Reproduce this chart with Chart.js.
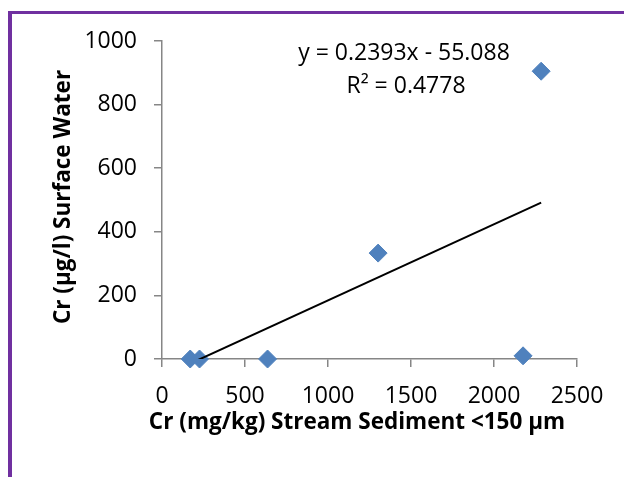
<!DOCTYPE html>
<html>
<head>
<meta charset="utf-8">
<script src="https://cdn.jsdelivr.net/npm/chart.js@4.4.0/dist/chart.umd.min.js"></script>
<style>
  html, body { margin: 0; padding: 0; background: #fff; }
  #wrap { position: relative; width: 624px; height: 477px; overflow: hidden; }
  #frame {
    position: absolute; left: 8px; top: 11px; width: 700px; height: 600px;
    border-top: 3px solid #7030A0; border-left: 4px solid #7030A0;
  }
  #grafico { position: absolute; left: 0; top: 0; }
</style>
</head>
<body>
<div id="wrap">
  <div id="frame"></div>
  <canvas id="grafico" width="624" height="477"></canvas>
</div>
<script>
// valores
const sedimentoCr = [170, 226, 636, 1302, 2175, 2284];
const aguaCr = [0, 0, 0, 333, 10, 905];
const pendiente = 0.2393;
const intercepto = -55.088;
const ticksX = [0, 500, 1000, 1500, 2000, 2500];
const ticksY = [0, 200, 400, 600, 800, 1000];
const ecuacion = 'y = 0.2393x - 55.088';
const r2 = 'R² = 0.4778';
const tituloX = 'Cr (mg/kg) Stream Sediment <150 µm';
const tituloY = 'Cr (µg/l) Surface Water';

const fuente = "'Open Sans', sans-serif";
const gris = '#868686';

const puntos = sedimentoCr.map((x, i) => ({ x: x, y: aguaCr[i] }));
const xMin = Math.min(...sedimentoCr);
const xMax = Math.max(...sedimentoCr);
const tendencia = [
    { x: xMin, y: pendiente * xMin + intercepto },
    { x: xMax, y: pendiente * xMax + intercepto }
];

// textos fijos: titulos de ejes y ecuacion de la tendencia
const textosPlugin = {
    id: 'textos',
    afterDraw(chart) {
        const ctx = chart.ctx;
        ctx.save();
        ctx.fillStyle = '#000';
        ctx.textAlign = 'center';
        ctx.textBaseline = 'middle';

        ctx.font = "23px " + fuente;
        ctx.fillText(ecuacion, 404, 53);
        ctx.fillText(r2, 406, 86);

        ctx.font = "bold 22.5px " + fuente;
        ctx.fillText(tituloX, 357, 423);

        ctx.translate(64, 197);
        ctx.rotate(-Math.PI / 2);
        ctx.fillText(tituloY, 0, 0);
        ctx.restore();
    }
};

new Chart(document.getElementById('grafico'), {
    type: 'scatter',
    data: {
        datasets: [
            {
                label: 'Cr',
                data: puntos,
                pointStyle: 'rectRot',
                pointRadius: 9,
                pointBorderWidth: 1,
                backgroundColor: '#4F81BD',
                borderColor: '#4F81BD',
                clip: false,
                order: 1
            },
            {
                type: 'line',
                label: 'Tendencia',
                data: tendencia,
                borderColor: '#000',
                borderWidth: 2,
                pointRadius: 0,
                fill: false,
                order: 0
            }
        ]
    },
    options: {
        responsive: false,
        animation: false,
        events: [],
        layout: { padding: { top: 41, right: 47, bottom: 0, left: 0 } },
        plugins: {
            legend: { display: false },
            tooltip: { enabled: false }
        },
        scales: {
            x: {
                type: 'linear',
                min: 0,
                max: 2500,
                afterBuildTicks: (eje) => { eje.ticks = ticksX.map(v => ({ value: v })); },
                afterFit: (eje) => { eje.height = 118; },
                grid: { drawOnChartArea: false, color: gris, lineWidth: 1.5, tickLength: 8 },
                border: { color: gris, width: 1.5 },
                ticks: {
                    color: '#000',
                    padding: 16,
                    font: { family: fuente, size: 23 },
                    callback: (v) => String(v)
                }
            },
            y: {
                type: 'linear',
                min: 0,
                max: 1000,
                afterBuildTicks: (eje) => { eje.ticks = ticksY.map(v => ({ value: v })); },
                afterFit: (eje) => { eje.width = 162; },
                grid: { drawOnChartArea: false, color: gris, lineWidth: 1.5, tickLength: 8 },
                border: { color: gris, width: 1.5 },
                ticks: {
                    color: '#000',
                    padding: 17,
                    font: { family: fuente, size: 23 },
                    callback: (v) => String(v)
                }
            }
        }
    },
    plugins: [textosPlugin]
});
</script>
</body>
</html>
